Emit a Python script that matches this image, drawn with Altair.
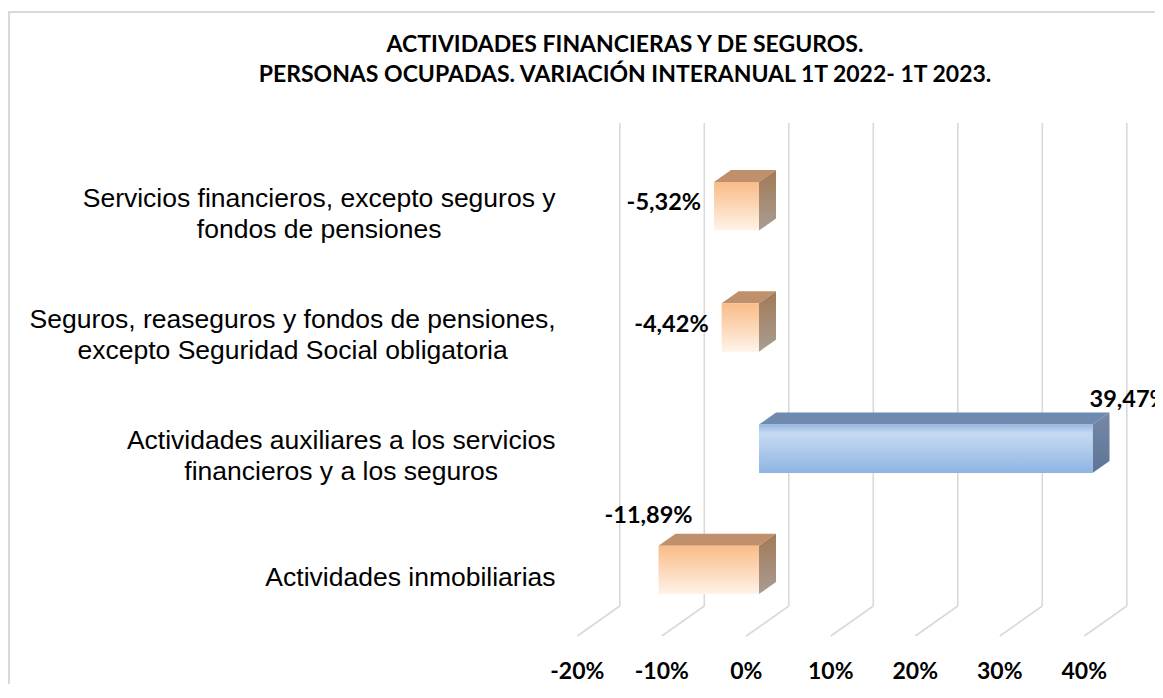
import altair as alt
import pandas as pd

# ---------------- data ----------------
categories = [
    "Servicios financieros, excepto seguros y\nfondos de pensiones",
    "Seguros, reaseguros y fondos de pensiones,\nexcepto Seguridad Social obligatoria",
    "Actividades auxiliares a los servicios\nfinancieros y a los seguros",
    "Actividades inmobiliarias",
]
values = [-5.32, -4.42, 39.47, -11.89]
value_labels = ["-5,32%", "-4,42%", "39,47%", "-11,89%"]
ticks = [-20, -10, 0, 10, 20, 30, 40]
tick_labels = ["-20%", "-10%", "0%", "10%", "20%", "30%", "40%"]
title_lines = [
    "ACTIVIDADES FINANCIERAS Y DE SEGUROS.",
    "PERSONAS OCUPADAS. VARIACIÓN INTERANUAL 1T 2022- 1T 2023.",
]

# ---------------- layout / style ----------------
W, H = 1147, 676
X0, PPU = 751.0, 8.45          # pixel of 0% on the bar front face, pixels per 1%
Y0, ROW = 198.3, 121.2         # pixel of the first row centre, pixels per row
HALF = 24.2 / ROW              # half bar height (rows)
DX, DY = 17.0 / PPU, 12.0 / ROW  # 3-D depth of the bars
BACK_DX = 29.8 / PPU           # back wall offset
FRONT_DX = -12.7 / PPU         # floor front offset
WALL_TOP = (115 - Y0) / ROW
WALL_BOT = (598 - Y0) / ROW
FLOOR_FRONT = (628 - Y0) / ROW
TICK_ROW = (664 - Y0) / ROW
LABEL_RIGHT = 547.5
LABEL_SIZE = 26.5
LABEL_LH = 31.5

xs = alt.Scale(domain=[-X0 / PPU, (W - X0) / PPU], nice=False, zero=False)
ys = alt.Scale(domain=[-Y0 / ROW, (H - Y0) / ROW], nice=False, zero=False, reverse=True)

# Arial / Liberation Sans advance widths (1/1000 em) to centre the label lines
AW = {" ": 278, ",": 278, "A": 667, "S": 667, "a": 556, "b": 556, "c": 500, "d": 556,
      "e": 556, "f": 278, "g": 556, "h": 556, "i": 222, "j": 222, "k": 500, "l": 222,
      "m": 833, "n": 556, "o": 556, "p": 556, "q": 556, "r": 333, "s": 500, "t": 278,
      "u": 556, "v": 500, "w": 722, "x": 500, "y": 500, "z": 500}


def text_w(s):
    return sum(AW.get(ch, 556) for ch in s) / 1000.0 * LABEL_SIZE


def grad(stops):
    return alt.Gradient(
        gradient="linear",
        stops=[alt.GradientStop(color=c, offset=o) for o, c in stops],
        x1=0, x2=0, y1=0, y2=1,
    )


ORANGE_FACE = grad([(0, "#F9BC88"), (0.5, "#FCD7B7"), (1, "#FFF3EA")])
ORANGE_TOP = "#BF906B"
ORANGE_SIDE = grad([(0, "#A27955"), (1, "#A89D93")])
BLUE_FACE = grad([(0, "#93B6E3"), (0.18, "#C6DAF2"), (1, "#8FB4E3")])
BLUE_TOP = "#6E8AAF"
BLUE_SIDE = grad([(0, "#7689A5"), (1, "#5D7598")])
GRID = "#D9D9D9"

# ---------------- derived tables ----------------
bars, tops, sides, cats = [], [], [], []
for i, (c, v, lab) in enumerate(zip(categories, values, value_labels)):
    lo, hi = min(v, 0.0), max(v, 0.0)
    yt, yb = i - HALF, i + HALF
    bars.append(dict(cat=c, r=i, v=v, lo=lo, hi=hi, yt=yt, yb=yb, lab=lab))
    tops.append(dict(cat=c, v=v, y=yt, xa=lo, xb=hi))
    tops.append(dict(cat=c, v=v, y=yt - DY, xa=lo + DX, xb=hi + DX))
    sides.append(dict(cat=c, v=v, x=hi, ya=yt, yb=yb))
    sides.append(dict(cat=c, v=v, x=hi + DX, ya=yt - DY, yb=yb - DY))
    lines = c.split("\n")
    cats.append(dict(
        cat=c,
        ly=i - (len(lines) - 1) * LABEL_LH / 2 / ROW,
        lx=LABEL_RIGHT - max(text_w(l) for l in lines) / 2,
    ))

bars = pd.DataFrame(bars)
tops = pd.DataFrame(tops)
sides = pd.DataFrame(sides)
cats = pd.DataFrame(cats)
grid = pd.DataFrame(dict(
    t=ticks, lab=tick_labels,
    xb=[t + BACK_DX for t in ticks], xf=[t + FRONT_DX for t in ticks],
    top=WALL_TOP, bot=WALL_BOT, front=FLOOR_FRONT, tr=TICK_ROW,
))

X = lambda f, **k: alt.X(f, scale=xs, axis=None, **k)
Y = lambda f, **k: alt.Y(f, scale=ys, axis=None, **k)

wall = alt.Chart(grid).mark_rule(color=GRID, strokeWidth=1.6).encode(
    x=X("xb:Q"), y=Y("top:Q"), y2="bot:Q")
floor = alt.Chart(grid).mark_rule(color=GRID, strokeWidth=1.6).encode(
    x=X("xb:Q"), x2="xf:Q", y=Y("bot:Q"), y2="front:Q")
tick_text = alt.Chart(grid).mark_text(
    font="Lato", fontWeight="bold", fontSize=23, color="#000000", baseline="middle"
).encode(x=X("xf:Q"), y=Y("tr:Q"), text="lab:N")

layers = [wall, floor, tick_text]
for cond, face, top, side in [("datum.v < 0", ORANGE_FACE, ORANGE_TOP, ORANGE_SIDE),
                              ("datum.v >= 0", BLUE_FACE, BLUE_TOP, BLUE_SIDE)]:
    layers.append(alt.Chart(tops).transform_filter(cond).mark_area(
        orient="horizontal", color=top).encode(
        y=Y("y:Q"), x=X("xa:Q", stack=None), x2="xb:Q", detail="cat:N"))
    layers.append(alt.Chart(sides).transform_filter(cond).mark_area(
        orient="vertical", color=side).encode(
        x=X("x:Q"), y=Y("ya:Q", stack=None), y2="yb:Q", detail="cat:N"))
    layers.append(alt.Chart(bars).transform_filter(cond).mark_rect(color=face).encode(
        x=X("lo:Q"), x2="hi:Q", y=Y("yt:Q"), y2="yb:Q"))

lab_font = dict(font="Lato", fontWeight="bold", fontSize=23.5, color="#000000", baseline="middle")
layers.append(alt.Chart(bars).transform_filter("datum.r <= 1").mark_text(
    align="right", dx=-13, dy=-3, **lab_font).encode(x=X("v:Q"), y=Y("r:Q"), text="lab:N"))
layers.append(alt.Chart(bars).transform_filter("datum.r == 3").mark_text(
    align="center", dx=-10, dy=-54, **lab_font).encode(x=X("v:Q"), y=Y("r:Q"), text="lab:N"))
layers.append(alt.Chart(bars).transform_filter("datum.r == 2").mark_text(
    align="left", dx=-3, dy=-49, **lab_font).encode(x=X("v:Q"), y=Y("r:Q"), text="lab:N"))

layers.append(alt.Chart(cats).mark_text(
    align="center", baseline="middle", lineBreak="\n", font="Liberation Sans",
    fontSize=LABEL_SIZE, lineHeight=LABEL_LH, dy=8, color="#000000"
).encode(x=alt.X("lx:Q", scale=None, axis=None), y=Y("ly:Q"), text="cat:N"))

layers.append(alt.Chart(pd.DataFrame({"t": ["\n".join(title_lines)]})).mark_text(
    align="center", baseline="middle", lineBreak="\n", font="Lato", fontWeight="bold",
    fontSize=23, lineHeight=30, color="#000000"
).encode(x=alt.value(617), y=alt.value(37), text="t:N"))

# chart border (top and left edges)
layers.append(alt.Chart(pd.DataFrame({"a": [0]})).mark_rule(color=GRID, strokeWidth=2).encode(
    x=alt.value(0), x2=alt.value(W), y=alt.value(4)))
layers.append(alt.Chart(pd.DataFrame({"a": [0]})).mark_rule(color=GRID, strokeWidth=2).encode(
    x=alt.value(1), y=alt.value(3), y2=alt.value(H)))

chart = alt.layer(*layers).properties(
    width=W, height=H, padding=0, autosize="none"
).configure_view(stroke=None)

chart.save("out.html", embed_options={"renderer": "svg", "actions": False})
